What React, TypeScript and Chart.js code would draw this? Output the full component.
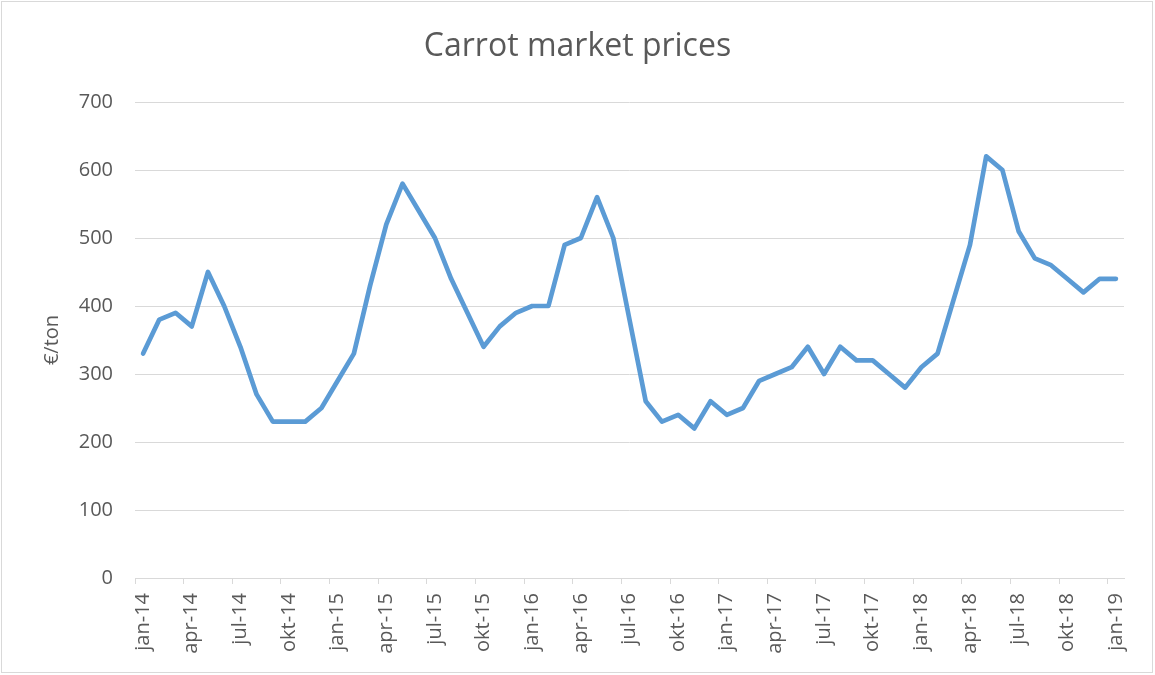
import React, { useEffect, useRef } from "react";
import { Chart, registerables } from "chart.js";

Chart.register(...registerables);

const monthNames = ["jan", "feb", "mrt", "apr", "mei", "jun", "jul", "aug", "sep", "okt", "nov", "dec"];
const years = ["14", "15", "16", "17", "18", "19"];

const prices2014 = [330, 380, 390, 370, 450, 400, 340, 270, 230, 230, 230, 250];
const prices2015 = [290, 330, 430, 520, 580, 540, 500, 440, 390, 340, 370, 390];
const prices2016 = [400, 400, 490, 500, 560, 500, 380, 260, 230, 240, 220, 260];
const prices2017 = [240, 250, 290, 300, 310, 340, 300, 340, 320, 320, 300, 280];
const prices2018 = [310, 330, 410, 490, 620, 600, 510, 470, 460, 440, 420, 440];
const prices2019 = [440];

const prices = [...prices2014, ...prices2015, ...prices2016, ...prices2017, ...prices2018, ...prices2019];
const labels: string[] = [];
years.forEach((y) => monthNames.forEach((m) => labels.push(`${m}-${y}`)));
labels.length = prices.length;

const yTicks = [0, 100, 200, 300, 400, 500, 600, 700];

const TEXT = "#595959";
const GRID = "#d9d9d9";
const FONT = "'Open Sans', 'Liberation Sans', sans-serif";

const frame = {
  id: "frame",
  beforeDraw(chart: any) {
    const { ctx } = chart;
    ctx.save();
    ctx.fillStyle = "#ffffff";
    ctx.fillRect(0, 0, chart.width, chart.height);
    ctx.strokeStyle = GRID;
    ctx.lineWidth = 1;
    ctx.strokeRect(1.5, 1.5, 1151, 671);
    ctx.restore();
  },
};

export default function App() {
  const ref = useRef<HTMLCanvasElement>(null);
  useEffect(() => {
    if (!ref.current) return;
    const chart = new Chart(ref.current, {
      type: "line",
      data: {
        labels,
        datasets: [
          {
            label: "Prijs",
            data: prices,
            borderColor: "#5b9bd5",
            backgroundColor: "#5b9bd5",
            borderWidth: 4.7,
            pointRadius: 0,
            pointHoverRadius: 0,
            tension: 0,
            borderCapStyle: "round",
            borderJoinStyle: "round",
            fill: false,
            yAxisID: "y",
          },
        ],
      },
      options: {
        responsive: false,
        animation: false,
        devicePixelRatio: 1,
        layout: { padding: { left: 0, right: 0, top: 0, bottom: 0 } },
        plugins: {
          legend: { display: false },
          tooltip: { enabled: false },
          title: {
            display: true,
            text: "Carrot market prices",
            color: TEXT,
            font: { family: FONT, size: 32, weight: "normal" },
            padding: { top: 28, bottom: 35.6 },
          },
        },
        scales: {
          x: {
            type: "category",
            offset: true,
            afterFit: (s: any) => {
              s.height = 97;
            },
            grid: {
              offset: true,
              drawOnChartArea: false,
              drawTicks: true,
              tickLength: 6,
              tickColor: (ctx: any) => (ctx.index % 3 === 0 ? GRID : "rgba(0,0,0,0)"),
              color: "rgba(0,0,0,0)",
            },
            border: { display: true, color: GRID, width: 1 },
            ticks: {
              autoSkip: false,
              maxRotation: 90,
              minRotation: 90,
              padding: 9,
              color: TEXT,
              font: { family: FONT, size: 20 },
              callback: (_v: any, i: number) => (i % 3 === 0 ? labels[i] : ""),
            },
          },
          y: {
            min: 0,
            max: 700,
            afterFit: (s: any) => {
              s.width = 135;
            },
            afterBuildTicks: (s: any) => {
              s.ticks = yTicks.map((v) => ({ value: v }));
            },
            grid: { color: GRID, lineWidth: 1, drawTicks: false },
            border: { display: false },
            ticks: {
              padding: 22,
              color: TEXT,
              font: { family: FONT, size: 20 },
            },
            title: {
              display: true,
              text: "€/ton",
              color: TEXT,
              font: { family: FONT, size: 20 },
              padding: { top: 40, bottom: 0 },
            },
          },
          yRight: {
            position: "right",
            display: true,
            min: 0,
            max: 700,
            afterFit: (s: any) => {
              s.width = 31;
            },
            grid: { display: false, drawOnChartArea: false, drawTicks: false },
            border: { display: false },
            ticks: { display: false },
          },
        },
      },
      plugins: [frame],
    });
    return () => chart.destroy();
  }, []);
  return (
    <div style={{ position: "fixed", left: 0, top: 0, width: 1155, height: 675, background: "#fff" }}>
      <canvas ref={ref} width={1155} height={675} style={{ width: 1155, height: 675, display: "block" }} />
    </div>
  );
}
